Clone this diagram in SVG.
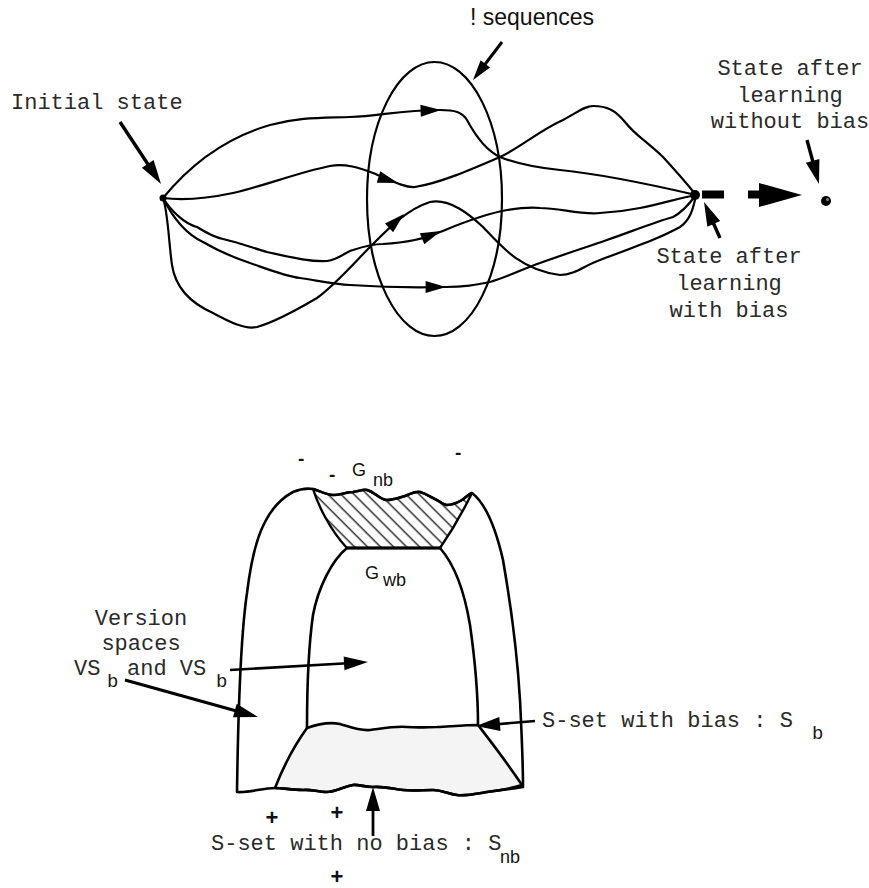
<svg xmlns="http://www.w3.org/2000/svg" width="869" height="888" viewBox="0 0 869 888">
  <defs>
    <style>
      .ln { fill: none; stroke: #000; stroke-width: 2.2; stroke-linejoin: round; stroke-linecap: round; }
      .sh { fill: none; stroke: #000; stroke-width: 2.6; stroke-linejoin: round; stroke-linecap: round; }
      .shaft { fill: none; stroke: #000; stroke-width: 3.4; }
      .mono { font-family: "Liberation Mono", "DejaVu Sans Mono", monospace; font-size: 22px; fill: #2a2a2a; }
      .sub { font-family: "Liberation Mono", "DejaVu Sans Mono", monospace; font-size: 19px; fill: #1a1a1a; }
      .sans { font-family: "Liberation Sans", Arial, sans-serif; fill: #111; }
      .mid { text-anchor: middle; }
    </style>
    <path id="head" d="M0,0 L-24,-7 L-24,7 Z" fill="#000"/>
    <pattern id="hatch" width="9.2" height="9.2" patternUnits="userSpaceOnUse" patternTransform="rotate(-45)">
      <line x1="2" y1="0" x2="2" y2="9.2" stroke="#444" stroke-width="1.6"/>
    </pattern>
  </defs>
  <rect width="869" height="888" fill="#fff"/>

  <!-- Upper figure: learning trajectories -->
  <g id="connectors">
    <!-- trajectories from the initial state to the biased final state -->
    <path class="ln" d="M163,198 C190,165 225,138 270,125 C300,117 320,118 350,117 C380,116 400,110 440,110 C455,110 462,112 467,120 C475,135 485,150 500,157 C520,165 540,168 560,170 C600,174 640,182 696,195"/>
    <path class="ln" d="M163,198 C180,200 200,200 233,193 C260,187 300,172 330,166 C345,163 360,168 373,173 C390,180 405,188 415,187 C440,183 470,170 500,157 C520,148 540,130 563,120 C578,112 585,106 593,106 C607,106 615,110 625,122 C635,135 645,140 663,157 C675,170 688,185 696,195"/>
    <path class="ln" d="M163,198 C172,212 185,224 197,227 C205,232 213,237 223,239 C240,243 253,248 267,252 C290,257 310,262 327,261 C340,259 345,252 353,250 C365,246 375,244 383,244 C400,243 420,241 440,232 C455,226 480,215 507,210 C520,208 530,207 540,208 C560,208 580,215 600,213 C620,212 630,210 640,208 C660,204 680,198 696,195"/>
    <path class="ln" d="M163,198 C175,222 188,235 203,242 C220,252 235,258 250,263 C270,270 285,276 300,278 C320,281 335,284 350,285 C380,287 410,288 445,287 C465,287 475,285 490,282 C510,276 525,268 540,263 C565,254 590,246 607,240 C630,232 655,222 673,217 C683,212 690,203 696,195"/>
    <path class="ln" d="M163,198 C168,212 169,245 172,265 C176,292 195,305 213,313 C230,322 245,330 257,327 C275,322 300,308 317,298 C335,285 355,262 370,247 C385,232 405,210 430,202 C450,198 470,215 483,227 C500,245 520,270 560,275 C575,275 585,265 600,260 C640,245 660,238 680,227 C690,220 693,210 696,195"/>
    <!-- arrowheads along the trajectories -->
    <use href="#head" transform="translate(441,110) rotate(-2) scale(0.85)"/>
    <use href="#head" transform="translate(398,183) rotate(17) scale(0.85)"/>
    <use href="#head" transform="translate(441,231) rotate(-22) scale(0.85)"/>
    <use href="#head" transform="translate(446,287) rotate(0) scale(0.85)"/>
    <use href="#head" transform="translate(404,214) rotate(-43) scale(0.85)"/>

    <!-- label pointers -->
    <line class="shaft" x1="120" y1="122" x2="154.4" y2="174"/>
    <use href="#head" transform="translate(161,184) rotate(56.5)"/>
    <line class="shaft" x1="502" y1="42" x2="480.3" y2="70.5" style="stroke-width:3"/>
    <use href="#head" transform="translate(473,80) rotate(127.3) scale(0.85)"/>
    <line class="shaft" x1="807" y1="140" x2="815.8" y2="172.4"/>
    <use href="#head" transform="translate(819,184) rotate(74.7)"/>
    <line class="shaft" x1="720" y1="238" x2="708.9" y2="213"/>
    <use href="#head" transform="translate(704,202) rotate(-114)"/>

    <!-- dashed continuation to the unbiased final state -->
    <rect x="702" y="190.5" width="22" height="8" fill="#000"/>
    <rect x="748" y="190.5" width="13" height="8" fill="#000"/>
    <path d="M759,183 L802,195 L759,207 Z" fill="#000"/>
  </g>

  <g id="sequences">
    <ellipse class="ln" cx="434.5" cy="199" rx="67.5" ry="137"/>
    <text class="sans" x="470" y="25" font-size="23">! sequences</text>
  </g>

  <g id="initial-state">
    <circle cx="163" cy="198" r="3.5" fill="#000"/>
    <text class="mono" x="11" y="109">Initial state</text>
  </g>

  <g id="state-with-bias">
    <circle cx="695" cy="195" r="5" fill="#000"/>
    <text class="mono mid" x="729" y="263">State after</text>
    <text class="mono mid" x="729" y="290">learning</text>
    <text class="mono mid" x="729" y="317">with bias</text>
  </g>

  <g id="state-without-bias">
    <circle cx="826" cy="201" r="5" fill="#000"/>
    <circle cx="827.5" cy="199.5" r="1.6" fill="#fff" opacity="0.5"/>
    <text class="mono mid" x="790" y="75">State after</text>
    <text class="mono mid" x="790" y="101.5">learning</text>
    <text class="mono mid" x="790" y="128">without bias</text>
  </g>

  <!-- Lower figure: version spaces -->
  <g id="g-sets">
    <path d="M313,489 C320,491 327,495 333,495 C340,495 347,492 353,492 C360,491 363,489 367,490 C375,492 380,500 387,500 C393,500 398,498 405,496 C412,493 416,491 420,492 C427,494 430,497 433,498 C440,501 443,505 447,505 C453,505 457,503 462,500 C466,497 469,494 472,493 C466,505 458,522 440,548 L347,548 C330,530 318,505 313,489 Z" fill="url(#hatch)" stroke="#000" stroke-width="2.4" stroke-linejoin="round"/>
    <line x1="347" y1="548" x2="440" y2="548" stroke="#000" stroke-width="3.2"/>
    <text class="sans" x="352" y="476" font-size="18">G</text>
    <text class="sans" x="373" y="486" font-size="18">nb</text>
    <text class="sans" x="365" y="579" font-size="18">G</text>
    <text class="sans" x="383" y="586" font-size="18">wb</text>
  </g>

  <g id="s-sets">
    <path d="M307,728 C318,724 330,722 340,724 C350,727 360,731 370,730 C385,728 395,726 407,727 C420,728 428,727 437,727 C455,726 467,725 478,725 C488,738 506,761 522,785 C510,789 495,791 487,792 C475,794 465,796 457,795 C448,794 442,790 433,790 C423,790 413,791 403,790 C393,789 383,786 373,787 C363,787 358,784 353,785 C343,787 335,792 327,792 C318,792 310,789 303,790 C292,790 283,788 275,788 C282,770 294,746 307,728 Z" fill="#f4f4f4" stroke="#000" stroke-width="2.6" stroke-linejoin="round"/>
  </g>

  <g id="version-spaces">
    <!-- outer boundary (no bias) -->
    <path class="sh" d="M237,792 C238,720 240,640 247,593 C251,560 258,535 265,522 C272,508 282,498 293,492 C300,489 307,488 313,489 C320,491 327,495 333,495 C340,495 347,492 353,492 C360,491 363,489 367,490 C375,492 380,500 387,500 C393,500 398,498 405,496 C412,493 416,491 420,492 C427,494 430,497 433,498 C440,501 443,505 447,505 C453,505 457,503 462,500 C466,497 469,494 472,493 C485,503 495,525 503,560 C510,600 517,650 520,700 C522,740 523,770 523,787 C510,789 495,791 487,792 C475,794 465,796 457,795 C448,794 442,790 433,790 C423,790 413,791 403,790 C393,789 383,786 373,787 C363,787 358,784 353,785 C343,787 335,792 327,792 C318,792 310,789 303,790 C292,790 283,788 275,788 C262,788 250,793 237,792"/>
    <!-- inner boundary (with bias) -->
    <path class="sh" d="M347,548 C332,560 318,588 313,615 C308,650 307,690 307,728"/>
    <path class="sh" d="M440,548 C455,565 465,595 470,625 C475,660 478,700 478,725"/>
  </g>

  <g id="labels">
    <text class="sans" x="298" y="465" font-size="19" font-weight="bold">-</text>
    <text class="sans" x="329" y="481" font-size="19" font-weight="bold">-</text>
    <text class="sans" x="455" y="459" font-size="19" font-weight="bold">-</text>

    <text class="mono mid" x="141" y="625">Version</text>
    <text class="mono mid" x="141" y="650">spaces</text>
    <text class="mono" x="74" y="675">VS</text>
    <text class="sub" x="107" y="687">b</text>
    <text class="mono" x="127" y="675">and VS</text>
    <text class="sub" x="216" y="687">b</text>

    <text class="mono" x="542" y="727">S-set with bias : S</text>
    <text class="sub" x="812" y="739">b</text>

    <text class="mono" x="211" y="850">S-set with no bias : S</text>
    <text class="sans" x="500" y="863" font-size="18">nb</text>

    <text class="sans mid" x="272" y="825" font-size="22" font-weight="bold">+</text>
    <text class="sans mid" x="337" y="820" font-size="22" font-weight="bold">+</text>
    <text class="sans mid" x="337" y="884" font-size="22" font-weight="bold">+</text>
  </g>

  <g id="vs-pointers">
    <line class="shaft" x1="125" y1="680" x2="246.4" y2="713.8" style="stroke-width:3"/>
    <use href="#head" transform="translate(258,717) rotate(15.5)"/>
    <line class="shaft" x1="230" y1="670" x2="356" y2="662.7" style="stroke-width:2.6"/>
    <use href="#head" transform="translate(368,662) rotate(-3.3)"/>
    <line class="shaft" x1="535" y1="721" x2="488" y2="725" style="stroke-width:2.6"/>
    <use href="#head" transform="translate(476,726) rotate(175)"/>
    <line class="shaft" x1="373" y1="836" x2="373" y2="799" style="stroke-width:2.8"/>
    <use href="#head" transform="translate(373,787) rotate(-90)"/>
  </g>
</svg>
